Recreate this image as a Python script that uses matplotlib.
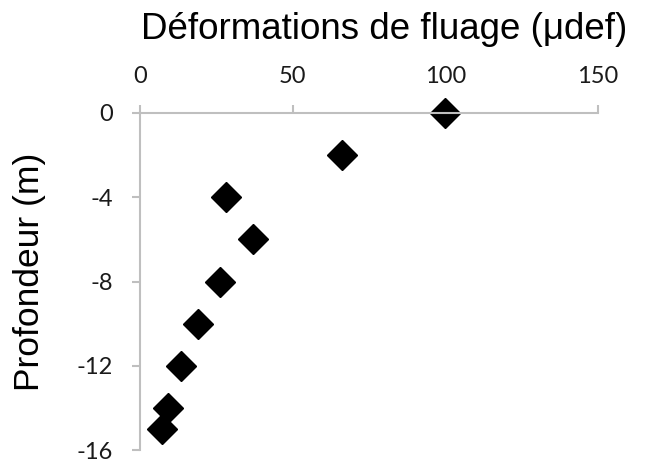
import numpy as np
import matplotlib
matplotlib.use('Agg')
import matplotlib.pyplot as plt

# creep strain (microstrain) vs depth (m)
strain = [100, 66, 28, 37, 26, 19, 13.5, 9, 7]
depth = [0, -2, -4, -6, -8, -10, -12, -14, -15]
xticks = [0, 50, 100, 150]
yticks = [0, -4, -8, -12, -16]

fig = plt.figure(figsize=(6.51, 4.63), dpi=100)
ax = fig.add_axes([0.2155, 0.028, 0.703, 0.728])

ax.plot(strain, depth, 'D', color='black', markersize=15, clip_on=False)

ax.set_xlim(0, 150)
ax.set_ylim(-16, 0)
ax.set_xticks(xticks)
ax.set_yticks(yticks)
ax.set_yticklabels([str(v) for v in yticks])

spine_col = '#bfbfbf'
for s in ['bottom', 'right']:
    ax.spines[s].set_visible(False)
for s in ['top', 'left']:
    ax.spines[s].set_color(spine_col)
    ax.spines[s].set_linewidth(1.5)

ax.xaxis.tick_top()
ax.tick_params(axis='both', direction='out', length=6, width=1.5, color=spine_col,
               labelsize=17, labelcolor='#1a1a1a')
ax.tick_params(axis='x', pad=13)
ax.tick_params(axis='y', pad=14)
for lab in ax.get_xticklabels() + ax.get_yticklabels():
    lab.set_family('Lato')

fig.text(0.59, 0.915, 'Déformations de fluage (μdef)', ha='center', va='baseline',
         fontsize=26.5, family='Liberation Sans')
fig.text(0.046, 0.413, 'Profondeur (m)', ha='center', va='center', rotation=90,
         fontsize=25.5, family='Liberation Sans')

fig.savefig('out.png', dpi=100)
